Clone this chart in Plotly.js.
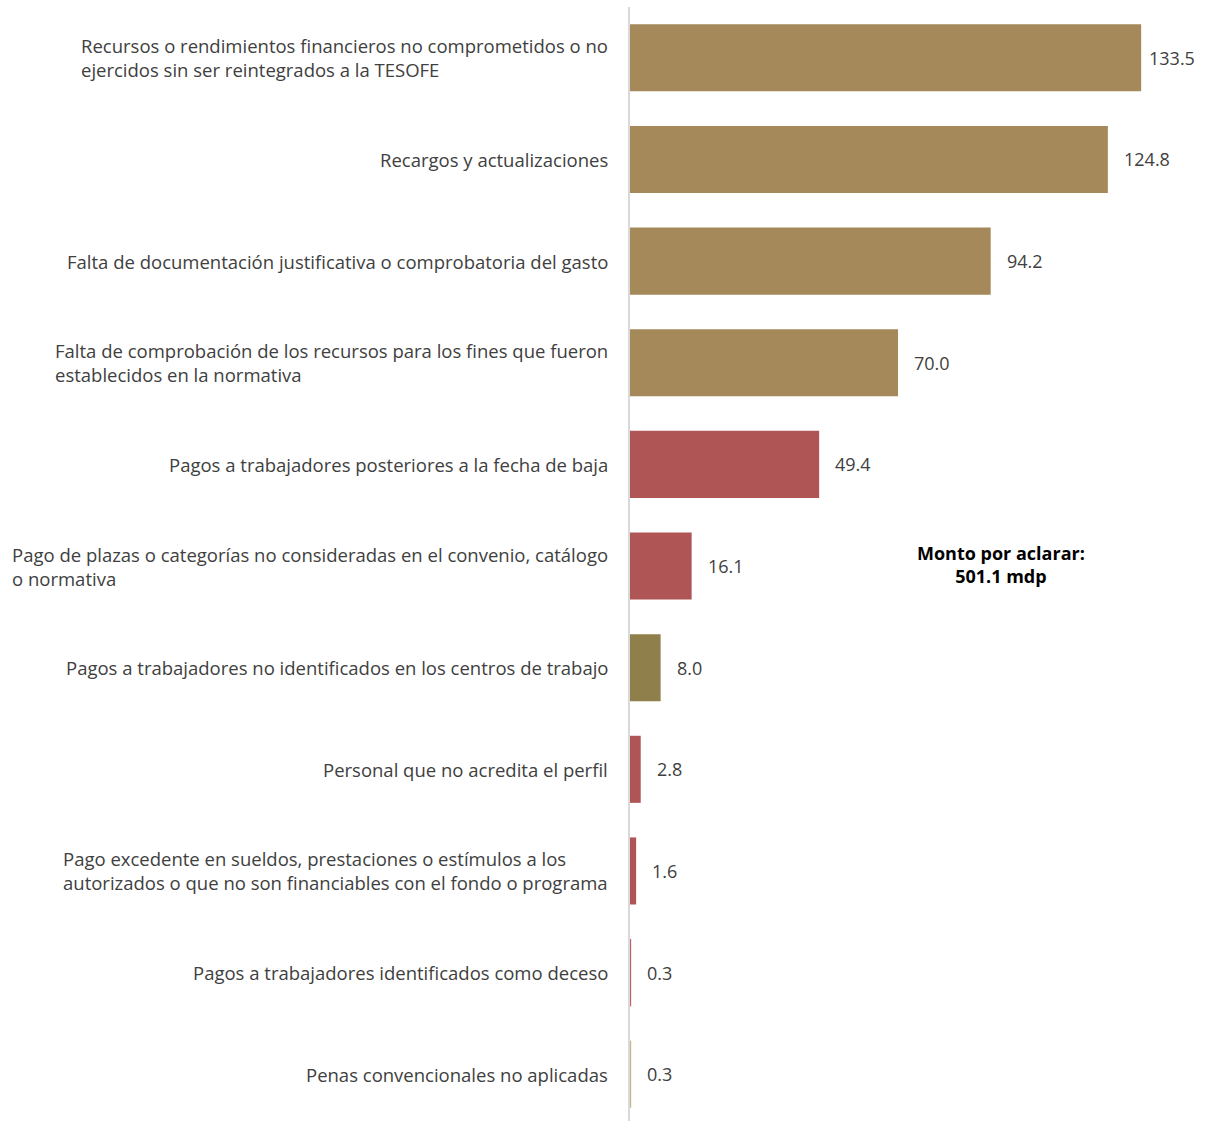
<!DOCTYPE html>
<html><head><meta charset="utf-8">
<script src="https://cdn.plot.ly/plotly-3.0.1.min.js"></script>
<style>html,body{margin:0;padding:0;background:#fff}</style>
</head><body>
<div id="chart" style="width:1212px;height:1121px"></div>
<script>
const categories = [
  "Recursos o rendimientos financieros no comprometidos o no<br>ejercidos sin ser reintegrados a la TESOFE",
  "Recargos y actualizaciones",
  "Falta de documentación justificativa o comprobatoria del gasto",
  "Falta de comprobación de los recursos para los fines que fueron<br>establecidos en la normativa",
  "Pagos a trabajadores posteriores a la fecha de baja",
  "Pago de plazas o categorías no consideradas en el convenio, catálogo<br>o normativa",
  "Pagos a trabajadores no identificados en los centros de trabajo",
  "Personal que no acredita el perfil",
  "Pago excedente en sueldos, prestaciones o estímulos a los<br>autorizados o que no son financiables con el fondo o programa",
  "Pagos a trabajadores identificados como deceso",
  "Penas convencionales no aplicadas"
];
const values = [133.5, 124.8, 94.2, 70.0, 49.4, 16.1, 8.0, 2.8, 1.6, 0.3, 0.3];
const barColors = ["#A5895A","#A5895A","#A5895A","#A5895A","#B05555","#B05555","#8F7F4A","#B05555","#B05555","#C0606A","#C8B488"];
const totalNote = "Monto por aclarar:<br>501.1 mdp";

const FONT = "'Open Sans', 'Noto Sans', sans-serif";
const XMAX = 152;
const ids = categories.map((c,i)=>"c"+i);
const trace = {
  type:"bar", orientation:"h",
  y: ids, x: values,
  marker:{color: barColors},
  width: 0.66,
  hoverinfo:"none"
};
const annotations = categories.map((c,i)=>({
  xref:"paper", yref:"y", x:0, y:ids[i],
  xanchor:"right", yanchor:"middle", align:"left",
  xshift:-20, showarrow:false, text:c,
  font:{family:FONT, size:18.5, color:"#404040"}
}));
values.forEach((v,i)=>annotations.push({
  xref:"x", yref:"y", x:v, y:ids[i],
  xanchor:"left", yanchor:"middle",
  // labels near the right edge are pulled in, as the original does
  xshift: v > XMAX*0.85 ? 6 : 14,
  showarrow:false, text:v.toFixed(1),
  font:{family:FONT, size:18, color:"#404040"}
}));
annotations.push({
  xref:"x", yref:"y", x:97, y:ids[5], yshift:2,
  xanchor:"center", yanchor:"middle", align:"center",
  showarrow:false, text:"<b>"+totalNote+"</b>",
  font:{family:FONT, size:18, color:"#000000"}
});
const layout = {
  width:1212, height:1121,
  margin:{l:630, r:0, t:7, b:0},
  paper_bgcolor:"#fff", plot_bgcolor:"#fff",
  showlegend:false,
  xaxis:{range:[0,XMAX], visible:false, fixedrange:true},
  yaxis:{type:"category", autorange:false, range:[categories.length-0.54, -0.5],
         showticklabels:false, ticks:"",
         showgrid:false, zeroline:false, showline:true, linecolor:"#D9D9D9", linewidth:2},
  annotations
};
Plotly.newPlot("chart",[trace],layout,{displayModeBar:false,staticPlot:true});
</script>
</body></html>
